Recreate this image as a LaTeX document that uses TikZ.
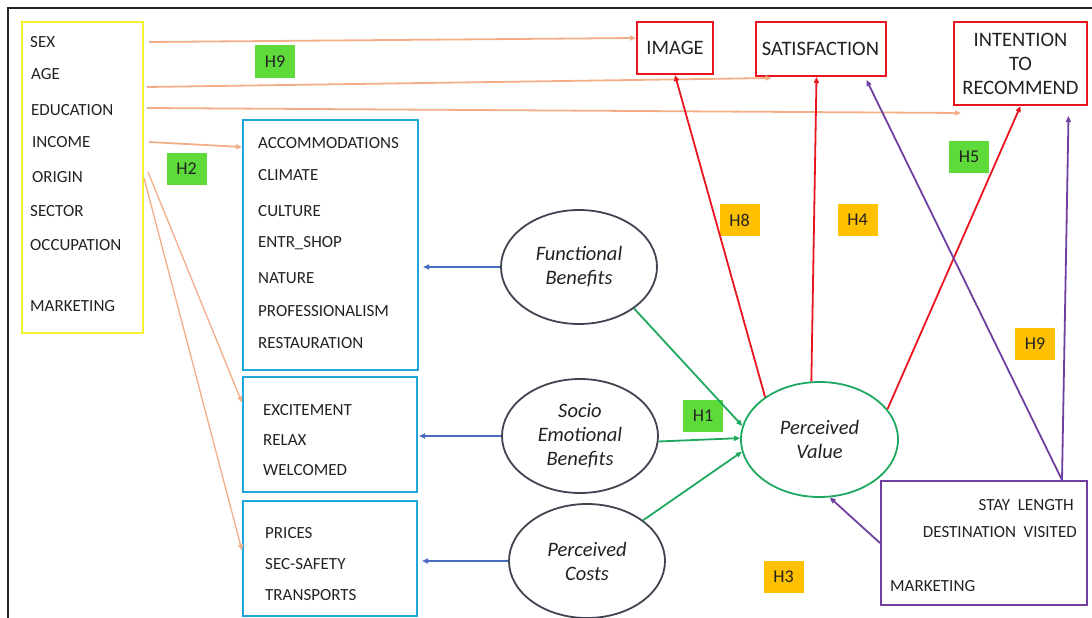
\documentclass[tikz,border=0pt]{standalone}
\usepackage{fontspec}
\setmainfont{Carlito}
\usetikzlibrary{arrows.meta,shapes.geometric,calc}
\definecolor{cyanbox}{HTML}{1FA7DB}
\definecolor{yelbox}{HTML}{F2F230}
\definecolor{redc}{HTML}{E8141E}
\definecolor{purp}{HTML}{7040A0}
\definecolor{orangeln}{HTML}{F2AE88}
\definecolor{bluearr}{HTML}{4A6CC4}
\definecolor{greenarr}{HTML}{1EA860}
\definecolor{ellgray}{HTML}{3F4450}
\definecolor{hgreen}{HTML}{5EDB3A}
\definecolor{hgold}{HTML}{FFC000}
\definecolor{txt}{HTML}{222222}
\begin{document}
\begin{tikzpicture}[x=1pt,y=-1pt,
  tip/.style={-{Triangle[length=6pt,width=5pt]}},
  boxnode/.style={rectangle, line width=2pt, inner sep=0pt},
  lt/.style={anchor=west, inner sep=0pt, text=txt, font=\fontsize{17}{20}\selectfont},
  redbox/.style={boxnode, draw=redc, text=txt, align=center, font=\fontsize{20.5}{24}\selectfont},
  ell/.style={ellipse, draw=ellgray, line width=1.8pt, inner sep=0pt, minimum width=156pt, minimum height=114pt, align=center, text=txt, font=\itshape\fontsize{20.5}{24}\selectfont},
  hlab/.style={rectangle, inner sep=0pt, minimum width=40pt, minimum height=32pt, text=txt, font=\fontsize{18}{20}\selectfont},
  orl/.style={tip, draw=orangeln, line width=1.8pt},
  bll/.style={tip, draw=bluearr, line width=1.8pt},
  grl/.style={tip, draw=greenarr, line width=1.8pt},
  rdl/.style={tip, draw=redc, line width=1.8pt},
  ppl/.style={tip, draw=purp, line width=1.8pt}
]
\useasboundingbox (0,0) rectangle (1092,618);
\draw[line width=1.2pt, black!85] (8,618) -- (8,8) -- (1092,8);

% demographic box
\node[boxnode, draw=yelbox, minimum width=121pt, minimum height=311pt] (demo) at (82.5,177.5) {};
\node[lt] (sex) at (30,42) {SEX};
\node[lt] (age) at (31,74) {AGE};
\node[lt] (edu) at (31,110) {EDUCATION};
\node[lt] (inc) at (32,142) {INCOME};
\node[lt] (ori) at (32,177) {ORIGIN};
\node[lt] (sec) at (30,211) {SECTOR};
\node[lt] (occ) at (30,245) {OCCUPATION};
\node[lt] (mkta) at (30,306) {MARKETING};

% benefit boxes
\node[boxnode, draw=cyanbox, minimum width=175pt, minimum height=250pt] (ben1) at (330.5,245) {};
\node[lt] (acc) at (258,143) {ACCOMMODATIONS};
\node[lt] (cli) at (258,175) {CLIMATE};
\node[lt] (cul) at (258,211) {CULTURE};
\node[lt] (ent) at (258,243) {ENTR\_SHOP};
\node[lt] (nat) at (258,278) {NATURE};
\node[lt] (pro) at (258,311) {PROFESSIONALISM};
\node[lt] (res) at (258,343) {RESTAURATION};

\node[boxnode, draw=cyanbox, minimum width=174pt, minimum height=115pt] (ben2) at (330,434.5) {};
\node[lt] (exc) at (263,410) {EXCITEMENT};
\node[lt] (rel) at (263,440) {RELAX};
\node[lt] (wel) at (263,470) {WELCOMED};

\node[boxnode, draw=cyanbox, minimum width=174pt, minimum height=115pt] (ben3) at (330,558.5) {};
\node[lt] (pri) at (265,533) {PRICES};
\node[lt] (saf) at (265,564) {SEC-SAFETY};
\node[lt] (tra) at (265,595) {TRANSPORTS};

% outcome boxes
\node[redbox, minimum width=76pt, minimum height=52pt] (img) at (675,48) {IMAGE};
\node[redbox, minimum width=130pt, minimum height=54pt] (sat) at (820.5,49) {SATISFACTION};
\node[redbox, minimum width=133pt, minimum height=83pt] (int) at (1020.5,63.5) {INTENTION\\TO\\RECOMMEND};

% ellipses
\node[ell] (fb) at (579,267) {Functional\\Benefits};
\node[ell] (se) at (580,436) {Socio\\Emotional\\Benefits};
\node[ell] (pc) at (587,561) {Perceived\\Costs};
\node[ell, draw=greenarr, minimum width=157pt, minimum height=115pt] (pv) at (819.5,439.5) {Perceived\\Value};

% trip box
\node[boxnode, draw=purp, minimum width=206pt, minimum height=124pt] (trip) at (984,543) {};
\node[lt, anchor=east] (sty) at (1074,505) {STAY\ \ LENGTH};
\node[lt, anchor=east] (dst) at (1077,532) {DESTINATION\ \ VISITED};
\node[lt] (mktb) at (890,586) {MARKETING};

% hypothesis labels
\node[hlab, fill=hgreen] (h9a) at (275,61.5) {H9};
\node[hlab, fill=hgreen] (h2) at (186.5,169) {H2};
\node[hlab, fill=hgreen] (h1) at (703,415.5) {H1};
\node[hlab, fill=hgreen] (h5) at (969,157) {H5};
\node[hlab, fill=hgold] (h8) at (739.5,220) {H8};
\node[hlab, fill=hgold] (h4) at (857.5,219.5) {H4};
\node[hlab, fill=hgold] (h9b) at (1035,344) {H9};
\node[hlab, fill=hgold] (h3) at (783.5,577) {H3};

% orange connectors
\draw[orl] ($(demo.east |- sex)+(5,0)$) -- ([yshift=10pt]img.west);
\draw[orl] ($(demo.east |- age)+(3,13)$) -- ([xshift=17pt,yshift=-1pt]sat.south west);
\draw[orl] ($(demo.east |- edu)+(3,-2)$) -- ([xshift=8pt,yshift=-7pt]int.south west);
\draw[orl] ($(demo.east |- inc)+(5,0)$) -- ([yshift=-28pt]ben1.north west);
\draw[orl, line width=1.3pt] ($(demo.east |- ori)+(4,-5)$) -- ([yshift=32pt]ben2.west);
\draw[orl, line width=1.3pt] ($(demo.east |- ori)+(0,1)$) -- ([yshift=8pt]ben3.west);

% blue connectors
\draw[bll] (fb.west) -- ([xshift=4pt]fb.west -| ben1.east);
\draw[bll] (se.west) -- ([xshift=1pt]se.west -| ben2.east);
\draw[bll] (pc.west) -- ([xshift=4pt]pc.west -| ben3.east);

% green connectors
\draw[grl] (fb.-37) -- (pv.170);
\draw[grl] (se.-4) -- (pv.179);
\draw[grl] (pc.36) -- (pv.-171);

% red connectors
\draw[rdl] (pv.142) -- (img.south);
\draw[rdl] (pv.98) -- ([xshift=-4pt]sat.south);
\draw[rdl] (pv.24) -- (int.south);

% purple connectors
\draw[ppl] ([xshift=-26pt]trip.north east) -- ([xshift=46pt,yshift=-3pt]sat.south);
\draw[ppl] ([xshift=-26pt]trip.north east) -- ([xshift=48pt,yshift=-10pt]int.south);
\draw[ppl] (trip.west) -- (pv.-80);
\end{tikzpicture}
\end{document}
